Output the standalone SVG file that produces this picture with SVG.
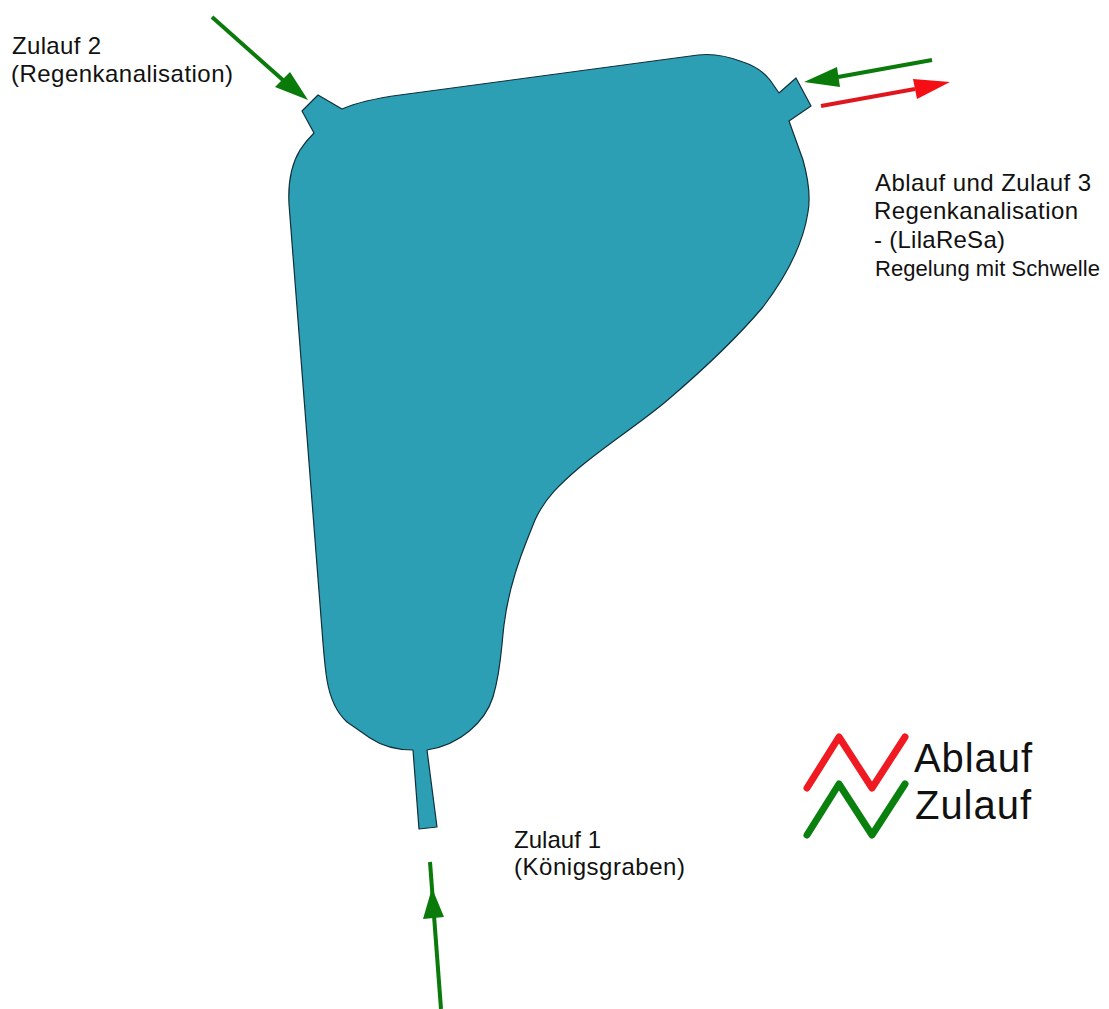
<svg xmlns="http://www.w3.org/2000/svg" width="1109" height="1009" viewBox="0 0 1109 1009">
<style>
.t{font-family:"Liberation Sans",Arial,sans-serif;fill:#111}
.s{font-size:24px}
.l{font-size:40px}
.g{stroke:#0a7a0a;fill:none;stroke-width:4}
.r{stroke:#e0161f;fill:none;stroke-width:4}
.zg{stroke:#0a800f;fill:none;stroke-width:7;stroke-linecap:round;stroke-linejoin:round}
.zr{stroke:#f01a22;fill:none;stroke-width:7;stroke-linecap:round;stroke-linejoin:round}
</style>
<rect width="1109" height="1009" fill="#fff"/>
<g id="basin">
<path fill="#2d9fb5" stroke="#10303a" stroke-width="1.2" stroke-linejoin="round" d="M342 109 C358 102 378 98 400 95 L698 55 C715 53 730 57 743 62 C755 66 763 71 770 80 L779 93 L796 78 L811 106 L789 121 L803 160 C808 178 811 195 808 212 C803 245 785 278 763 307 C735 340 705 368 670 398 C645 420 610 442 580 467 C560 484 545 498 535 520 L527 540 C515 570 507 600 504 625 C501 650 501 670 493 697 C485 722 460 745 427 750 L437 827 L419 829 L413 750 C396 750 382 746 370 738 L347 722 C336 712 330 698 327 680 C325 668 324 655 323 643 L289 204 C288 185 291 165 300 150 C304 144 309 138 314 133 L302 111 L318 95 Z"/>
</g>
<g id="connectors">
<g id="zulauf2-arrow">
<path class="g" d="M212 17 L284 81"/>
<polygon points="308,100 275,87 290,72" fill="#0a7a0a"/>
</g>
<g id="zulauf3-arrow">
<path class="g" d="M932 60 L838 77"/>
<polygon points="804,82 837,67 840,87" fill="#0a7a0a"/>
</g>
<g id="ablauf-arrow">
<path class="r" d="M821 106 L915 89"/>
<polygon points="950,82 913,79 917,99" fill="#f50f14"/>
</g>
<g id="zulauf1-arrow">
<path class="g" d="M430 862 L441 1009"/>
<polygon points="432,888 423,919 444,917" fill="#0a7a0a"/>
</g>
</g>
<g id="legend">
<path class="zr" d="M807 788 L839 737 L872 788 L905 737"/>
<path class="zg" d="M807 835 L839 784 L872 835 L905 784"/>
<text class="t l" x="914" y="772" textLength="118">Ablauf</text>
<text class="t l" x="915" y="819" textLength="116">Zulauf</text>
</g>
<g id="label-zulauf2">
<text class="t s" x="12" y="54" textLength="89">Zulauf 2</text>
<text class="t s" x="11" y="82" textLength="222">(Regenkanalisation)</text>
</g>
<g id="label-ablauf">
<text class="t s" x="875" y="191" textLength="216">Ablauf und Zulauf 3</text>
<text class="t s" x="874" y="219" textLength="204">Regenkanalisation</text>
<text class="t s" x="874" y="248" textLength="131">- (LilaReSa)</text>
<text class="t" font-size="22" x="875" y="276" textLength="225">Regelung mit Schwelle</text>
</g>
<g id="label-zulauf1">
<text class="t s" x="514" y="848" textLength="87">Zulauf 1</text>
<text class="t s" x="514" y="875" textLength="171">(Königsgraben)</text>
</g>
</svg>
